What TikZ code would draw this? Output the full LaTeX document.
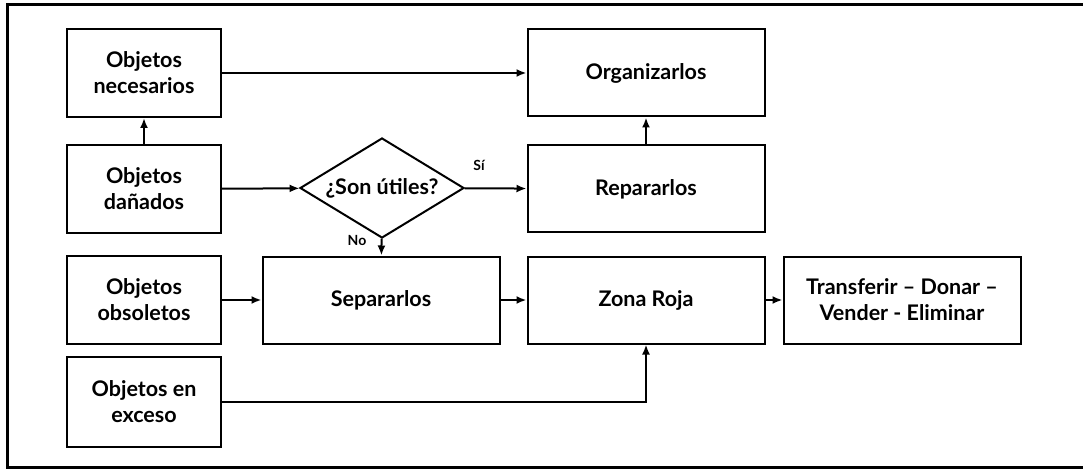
\documentclass[tikz,border=0pt]{standalone}
\usepackage{fontspec}
\setmainfont{Lato}
\usetikzlibrary{shapes.geometric,arrows.meta}

\tikzset{
    box/.style={draw, line width=2pt, align=center, inner sep=2pt,
        font=\fontsize{21.5}{26}\selectfont\bfseries},
    smallbox/.style={box, minimum width=154pt, minimum height=88pt},
    widebox/.style={box, minimum width=237pt, minimum height=87pt},
    decision/.style={draw, line width=2pt, shape=diamond, inner sep=0pt,
        minimum width=164pt, minimum height=100pt, aspect=1.64,
        font=\fontsize{21.5}{26}\selectfont\bfseries},
    flow/.style={line width=2pt, -{Latex[length=10pt,width=8pt]}},
    answer/.style={font=\fontsize{14}{16}\selectfont\bfseries},
}

\begin{document}
\begin{tikzpicture}[x=1pt, y=-1pt]
        \useasboundingbox (0,0) rectangle (1083,470);
        \draw[line width=3pt] (7,5) rectangle (1090,467);

            \node[smallbox] (nec) at (144,73) {Objetos\\necesarios};
            \node[smallbox] (dan) at (144,189) {Objetos\\dañados};
            \node[smallbox] (obs) at (144,300) {Objetos\\obsoletos};
            \node[smallbox, minimum height=90pt] (exc) at (144,402) {Objetos en\\exceso};

            \node[decision] (util) at (382,188) {\makebox[0pt]{¿Son útiles?}};

            \node[widebox] (org) at (646,73) {Organizarlos};
            \node[widebox] (rep) at (646,189) {Repararlos};
            \node[widebox] (sep) at (381,300) {Separarlos};
            \node[widebox] (zona) at (646,300) {Zona Roja};
            \node[widebox] (trans) at (902,300) {Transferir -- Donar --\\Vender - Eliminar};

            \node[answer] (si) at (479,165) {Sí};
            \node[answer] (no) at (357,240) {No};

            \draw[flow] (nec) -- (org);
            \draw[flow] (dan) -- (nec);
            \draw[flow] (dan) -- (util);
            \draw[flow] (util) -- (rep);
            \draw[flow] (rep) -- (org);
            \draw[flow] (util) -- (sep);
            \draw[flow] (obs) -- (sep);
            \draw[flow] (sep) -- (zona);
            \draw[flow] (zona) -- (trans);
            \draw[flow] (exc) -| (zona);

        \end{tikzpicture}
\end{document}
